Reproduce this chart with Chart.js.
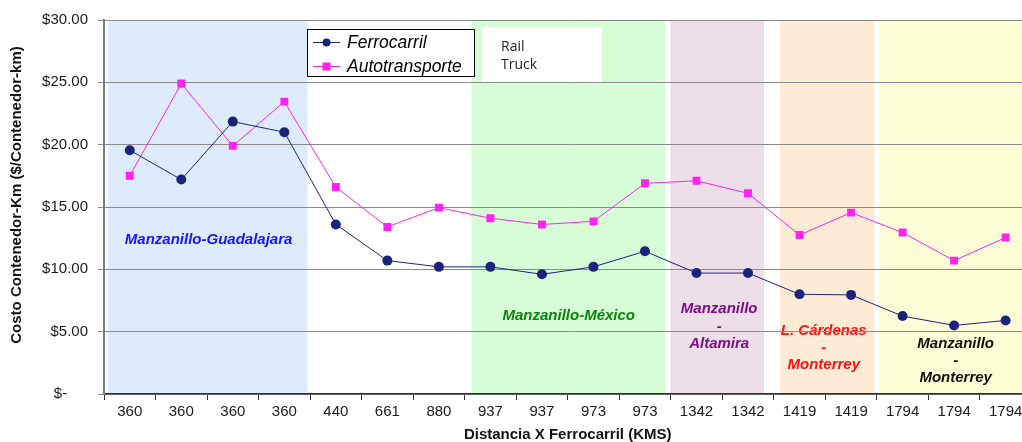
<!DOCTYPE html>
<html>
<head>
<meta charset="utf-8">
<script src="https://cdn.jsdelivr.net/npm/chart.js@4.4.1/dist/chart.umd.min.js"></script>
<style>
    html, body { margin: 0; padding: 0; background: #fff; overflow: hidden; }
    #wrap { width: 1037px; height: 442px; }
</style>
</head>
<body>
<div id="wrap"><canvas id="costChart" width="1037" height="442"></canvas></div>
<script>
// Distancia por tramo (KMS)
const distancias = ['360', '360', '360', '360', '440', '661', '880', '937', '937', '973', '973',
    '1342', '1342', '1419', '1419', '1794', '1794', '1794'];

// Costo $/Contenedor-km
const ferrocarril = [19.55, 17.2, 21.85, 21.0, 13.6, 10.7, 10.2, 10.2, 9.6, 10.2, 11.45,
    9.7, 9.7, 8.0, 7.95, 6.25, 5.5, 5.9];
const autotransporte = [17.5, 24.9, 19.9, 23.45, 16.6, 13.4, 14.95, 14.1, 13.6, 13.85, 16.9,
    17.1, 16.1, 12.75, 14.55, 12.95, 10.7, 12.55];

const yTicks = [0, 5, 10, 15, 20, 25, 30];

const FONT = "'Liberation Sans', Arial, sans-serif";

// background regions (in category units from the left edge) and their labels
const regions = [
    { from: 0.08, to: 3.95, color: '#ddebfc', text: ['Manzanillo-Guadalajara'], at: 2.03, y: 12.35, textColor: '#1515ff' },
    { from: 7.13, to: 10.89, color: '#d7fdd7', text: ['Manzanillo-México'], at: 9.02, y: 6.3, textColor: '#0b850b' },
    { from: 10.99, to: 12.81, color: '#ecdfe8', text: ['Manzanillo', '-', 'Altamira'], at: 11.94, y: 6.8, textColor: '#800c86' },
    { from: 13.12, to: 14.95, color: '#fdebd6', text: ['L. Cárdenas', '-', 'Monterrey'], at: 13.97, y: 5.1, textColor: '#ff1010' },
    { from: 15.04, to: 18.5, color: '#fefed6', text: ['Manzanillo', '-', 'Monterrey'], at: 16.53, y: 4.05, textColor: '#111' }
];

const regionsPlugin = {
    id: 'regions',
    beforeDraw(chart) {
        const { ctx, chartArea, scales: { x, y } } = chart;
        const w = x.getPixelForValue(1) - x.getPixelForValue(0);
        const x0 = x.getPixelForValue(0) - w / 2;
        ctx.save();
        regions.forEach(r => {
            const l = x0 + r.from * w;
            const rr = Math.min(x0 + r.to * w, chartArea.right);
            ctx.fillStyle = r.color;
            ctx.fillRect(l, chartArea.top, rr - l, chartArea.bottom - chartArea.top);
        });
        ctx.font = "italic bold 15px " + FONT;
        ctx.textAlign = 'center';
        ctx.textBaseline = 'middle';
        regions.forEach(r => {
            ctx.fillStyle = r.textColor;
            const cx = x0 + r.at * w;
            const cy = y.getPixelForValue(r.y);
            r.text.forEach((line, i) => ctx.fillText(line, cx, cy + i * 17.4));
        });
        // y axis title
        ctx.translate(17, 195);
        ctx.rotate(-Math.PI / 2);
        ctx.font = "bold 15px " + FONT;
        ctx.fillStyle = '#111';
        ctx.fillText('Costo Contenedor-Km ($/Contenedor-km)', 0, 0);
        ctx.restore();
    },
    afterDatasetsDraw(chart) {
        const { ctx } = chart;
        ctx.save();
        // legend box
        ctx.fillStyle = '#fff';
        ctx.fillRect(307, 29, 168, 48);
        ctx.strokeStyle = '#000';
        ctx.lineWidth = 1;
        ctx.strokeRect(307.5, 29.5, 167, 47);
        const rows = [
            { label: 'Ferrocarril', color: '#1b237c', y: 42.5, style: 'circle' },
            { label: 'Autotransporte', color: '#ff22f2', y: 66.5, style: 'rect' }
        ];
        rows.forEach(row => {
            ctx.strokeStyle = row.color;
            ctx.beginPath();
            ctx.moveTo(313, row.y);
            ctx.lineTo(340, row.y);
            ctx.stroke();
            ctx.fillStyle = row.color;
            if (row.style === 'circle') {
                ctx.beginPath();
                ctx.arc(326.5, row.y, 4, 0, Math.PI * 2);
                ctx.fill();
            } else {
                ctx.fillRect(322.5, row.y - 4, 8, 8);
            }
            ctx.fillStyle = '#000';
            ctx.font = "italic 17.5px " + FONT;
            ctx.textAlign = 'left';
            ctx.textBaseline = 'middle';
            ctx.fillText(row.label, 347, row.y + 1);
        });
        // Rail / Truck note
        ctx.fillStyle = '#fff';
        ctx.fillRect(482, 27, 120, 55);
        ctx.fillStyle = '#222';
        ctx.font = "14px 'Open Sans', " + FONT;
        ctx.fillText('Rail', 501, 47);
        ctx.fillText('Truck', 501, 65.5);
        ctx.restore();
    }
};

const ctx = document.getElementById('costChart').getContext('2d');

new Chart(ctx, {
    type: 'line',
    data: {
        labels: distancias,
        datasets: [{
            label: 'Ferrocarril',
            data: ferrocarril,
            borderColor: '#1f2385',
            backgroundColor: '#1b237c',
            borderWidth: 1,
            pointStyle: 'circle',
            pointRadius: 5,
            pointBorderWidth: 0,
            tension: 0
        }, {
            label: 'Autotransporte',
            data: autotransporte,
            borderColor: '#ff22f2',
            backgroundColor: '#ff22f2',
            borderWidth: 1,
            pointStyle: 'rect',
            pointRadius: 5.6,
            pointBorderWidth: 0,
            tension: 0
        }]
    },
    options: {
        responsive: false,
        animation: false,
        devicePixelRatio: 1,
        layout: { padding: { top: 20, left: 0, right: 0, bottom: 0 } },
        plugins: {
            legend: { display: false },
            tooltip: { enabled: false }
        },
        scales: {
            x: {
                offset: true,
                afterFit: scale => { scale.height = 48; },
                grid: { offset: true, drawOnChartArea: false, tickLength: 6, color: '#333' },
                border: { color: '#333', width: 1.5 },
                ticks: {
                    autoSkip: false, maxRotation: 0, padding: 3,
                    color: '#1a1a1a', font: { family: FONT, size: 15 }
                },
                title: {
                    display: true,
                    text: 'Distancia X Ferrocarril (KMS)',
                    color: '#111',
                    font: { family: FONT, size: 15, weight: 'bold', lineHeight: 1 },
                    padding: { top: 0, bottom: 0 }
                }
            },
            y: {
                min: 0,
                max: 30,
                afterFit: scale => { scale.width = 104; },
                afterBuildTicks: scale => { scale.ticks = yTicks.map(v => ({ value: v })); },
                grid: { color: '#8a8a8a', tickLength: 6, lineWidth: 1 },
                border: { color: '#7c7c7c', width: 2 },
                ticks: {
                    padding: 10,
                    color: '#1a1a1a',
                    font: { family: FONT, size: 15 },
                    callback: v => v === 0 ? '$-     ' : '$' + v.toFixed(2)
                }
            }
        }
    },
    plugins: [regionsPlugin]
});
</script>
</body>
</html>
